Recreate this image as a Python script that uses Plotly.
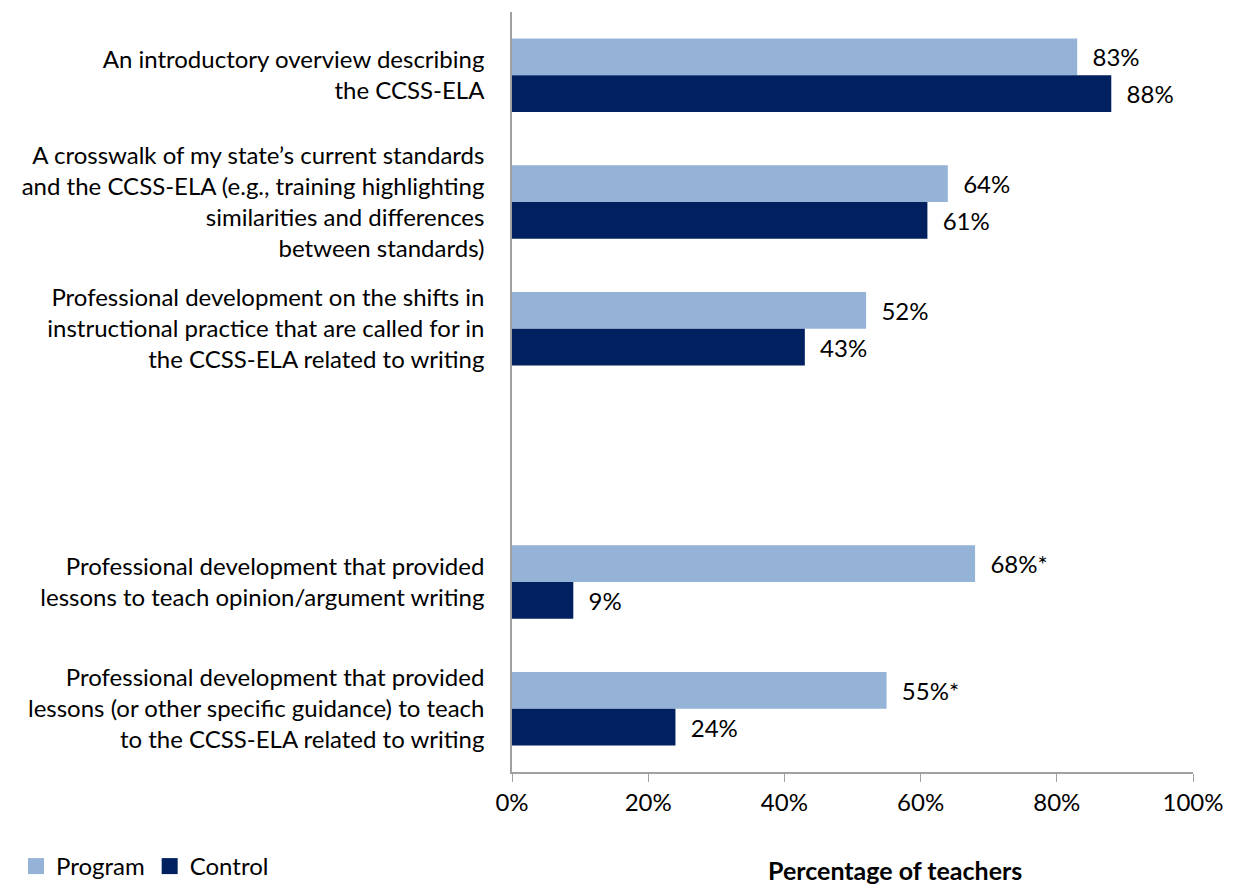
import plotly.graph_objects as go

categories = [
    "An introductory overview describing<br>the CCSS-ELA",
    "A crosswalk of my state’s current standards<br>and the CCSS-ELA (e.g., training highlighting<br>similarities and differences<br>between standards)",
    "Professional development on the shifts in<br>instructional practice that are called for in<br>the CCSS-ELA related to writing",
    " ",
    "Professional development that provided<br>lessons to teach opinion/argument writing",
    "Professional development that provided<br>lessons (or other specific guidance) to teach<br>to the CCSS-ELA related to writing",
]
program = [83, 64, 52, None, 68, 55]
control = [88, 61, 43, None, 9, 24]
program_labels = ["83%", "64%", "52%", "", "68%*", "55%*"]
control_labels = ["88%", "61%", "43%", "", "9%", "24%"]
tick_vals = [0, 20, 40, 60, 80, 100]
tick_text = ["0%", "20%", "40%", "60%", "80%", "100%"]

PROG_COLOR = "#95B3D7"
CTRL_COLOR = "#002060"
FONT = "Lato"
FS = 24
OFF = 8  # page body margin in the browser
W, H = 1236 - OFF, 888 - OFF
L, T = 512 - OFF, 12 - OFF
R = W - (1193 - OFF)
B = H - (772 - OFF)
plot_w = W - L - R
plot_h = H - T - B


def px_x(sx):
    return (sx - OFF - L) / plot_w


def px_y(sy):
    return (T + plot_h - (sy - OFF)) / plot_h


fig = go.Figure()
fig.add_trace(go.Bar(
    y=categories, x=program, orientation="h", name="Program", showlegend=False,
    marker=dict(color=PROG_COLOR, line=dict(width=0)),
    text=program_labels, texttemplate="  %{text}", textposition="outside", cliponaxis=False,
    textfont=dict(size=FS, color="#000000", family=FONT),
))
fig.add_trace(go.Bar(
    y=categories, x=control, orientation="h", name="Control", showlegend=False,
    marker=dict(color=CTRL_COLOR, line=dict(width=0)),
    text=control_labels, texttemplate="  %{text}", textposition="outside", cliponaxis=False,
    textfont=dict(size=FS, color="#000000", family=FONT),
))
# legend-only entries with larger square swatches
for nm, col in [("Program", PROG_COLOR), ("Control", CTRL_COLOR)]:
    fig.add_trace(go.Scatter(x=[None], y=[None], mode="markers", name=nm,
                             marker=dict(symbol="square", size=17, color=col),
                             showlegend=True, hoverinfo="skip"))

fig.update_layout(
    width=W, height=H,
    barmode="group", bargap=0.42, bargroupgap=0,
    plot_bgcolor="white", paper_bgcolor="white",
    margin=dict(l=L, r=R, t=T, b=B, autoexpand=False),
    font=dict(family=FONT, size=FS, color="#000000"),
    showlegend=True,
    legend=dict(orientation="h", x=px_x(16), y=px_y(844),
                xanchor="left", yanchor="top",
                font=dict(size=FS, family=FONT),
                traceorder="normal", itemwidth=30, tracegroupgap=0),
    xaxis=dict(range=[0, 100], tickvals=tick_vals, ticktext=tick_text,
               showgrid=False, zeroline=False, showline=True, linecolor="#A0A0A0",
               linewidth=1.5, ticks="outside", ticklen=8, tickcolor="#A0A0A0",
               tickfont=dict(size=FS, family=FONT)),
    yaxis=dict(autorange="reversed", categoryorder="array", categoryarray=categories,
               showgrid=False, zeroline=False, showline=True, linecolor="#A0A0A0",
               linewidth=1.5, ticks="", ticklabelstandoff=21,
               tickfont=dict(size=FS, family=FONT)),
    annotations=[dict(text="<b>Percentage of teachers</b>",
                      x=px_x(895), y=px_y(870),
                      xref="paper", yref="paper", showarrow=False,
                      xanchor="center", yanchor="middle",
                      font=dict(size=25, family=FONT))],
)

fig.write_html("out.html")
